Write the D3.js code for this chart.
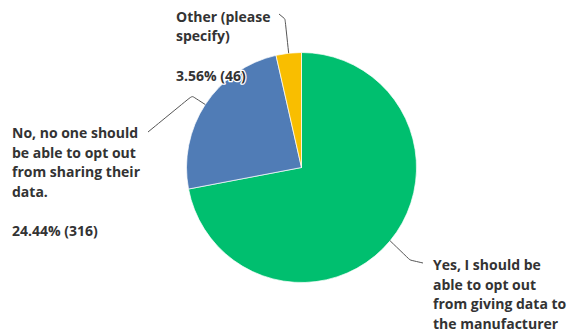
<!DOCTYPE html>
<html>

<head>
  <meta charset="utf-8">
  <title>Opt out pie</title>
  <script src="https://d3js.org/d3.v7.min.js"></script>
  <style>
    body { margin: 0; background: #fff; }
    text { font-family: "Open Sans", sans-serif; font-weight: 700; font-size: 14px; fill: #333; }
  </style>
</head>

<body>
  <div id='view'></div>
  <script>
    var categories = ["Yes, I should be able to opt out from giving data to the manufacturer",
      "No, no one should be able to opt out from sharing their data.",
      "Other (please specify)"];
    var counts = [931, 316, 46];
    var percents = ["72.00%", "24.44%", "3.56%"];
    var colors = ["#00bf6f", "#507cb6", "#f9be00"];

    var labelLines = [
      ["Yes, I should be", "able to opt out", "from giving data to", "the manufacturer"],
      ["No, no one should", "be able to opt out", "from sharing their", "data."],
      ["Other (please", "specify)"]
    ];
    var showPct = [false, true, true];

    var width = 571;
    var height = 331;
    var cx = 301.5, cy = 167.5, radius = 115;

    var svg = d3.select("#view")
      .append("svg")
      .attr("width", width)
      .attr("height", height);

    var pie = d3.pie().sort(null).value(function (d) { return d; });
    var arcs = pie(counts);

    var arc = d3.arc().innerRadius(0).outerRadius(radius);

    var g = svg.append("g")
      .attr("transform", "translate(" + cx + "," + cy + ")");

    g.selectAll("path")
      .data(arcs)
      .enter()
      .append("path")
      .attr("d", arc)
      .attr("fill", function (d, i) { return colors[i]; })
      .attr("stroke", "#fff")
      .attr("stroke-width", 0.7);

    // label layout: text anchor, line spacing and leader elbows
    var labelPos = [
      { x: 433, y: 270, dy: 19.5, pctGap: 0, elbow: [[410, 260], [423, 263]] },
      { x: 12, y: 138, dy: 19.7, pctGap: 39, elbow: [[192, 96], [148, 132]] },
      { x: 176, y: 22, dy: 19, pctGap: 40, elbow: [[285, 19], [279, 14]] }
    ];

    var line = d3.line().curve(d3.curveBasis);

    var leaders = svg.append("g");
    var labels = svg.append("g");

    arcs.forEach(function (a, i) {
      var mid = (a.startAngle + a.endAngle) / 2;
      var sx = cx + radius * Math.sin(mid);
      var sy = cy - radius * Math.cos(mid);
      var p = labelPos[i];
      var pts = [[sx, sy], p.elbow[0], p.elbow[0], p.elbow[1]];
      leaders.append("path")
        .attr("d", line(pts))
        .attr("fill", "none")
        .attr("stroke", "#555")
        .attr("stroke-width", 1);

      var t = labels.append("text")
        .attr("x", p.x)
        .attr("y", p.y)
        .attr("stroke", "#fff")
        .attr("stroke-width", 2.5)
        .attr("stroke-linejoin", "round")
        .attr("paint-order", "stroke");
      labelLines[i].forEach(function (s, j) {
        t.append("tspan")
          .attr("x", p.x)
          .attr("dy", j === 0 ? 0 : p.dy)
          .text(s);
      });
      if (showPct[i]) {
        t.append("tspan")
          .attr("x", p.x)
          .attr("dy", p.pctGap)
          .text(percents[i] + " (" + counts[i] + ")");
      }
    });
  </script>
</body>

</html>
